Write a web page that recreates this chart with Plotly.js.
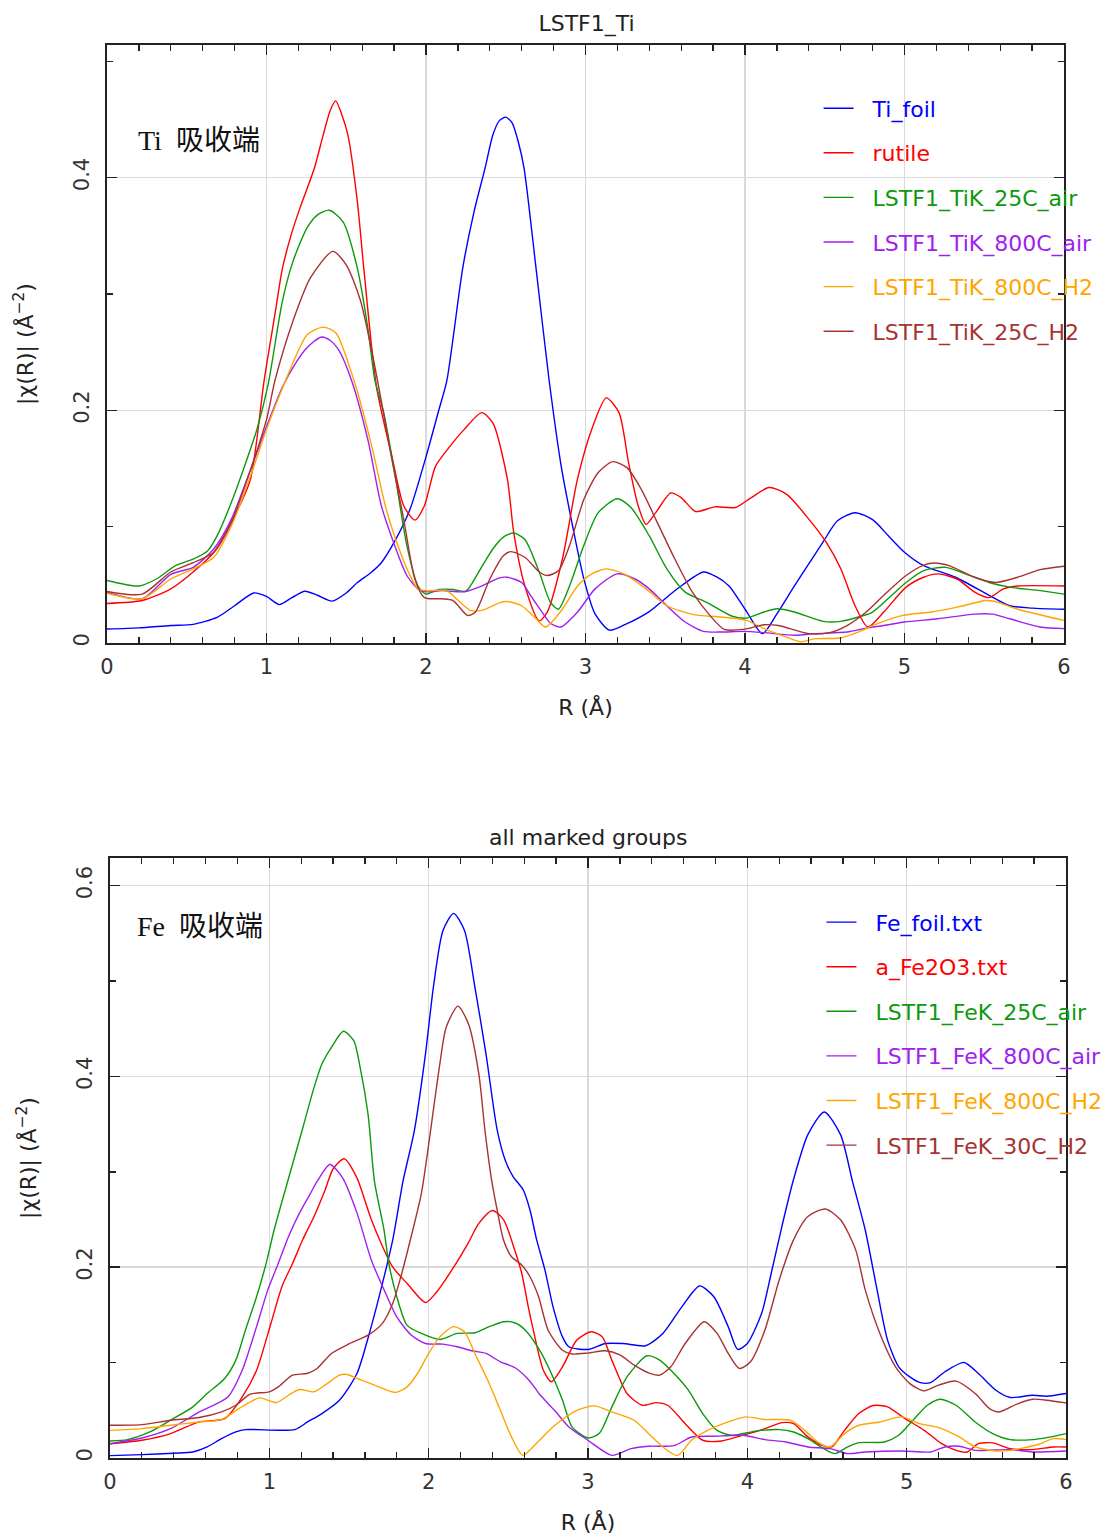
<!DOCTYPE html>
<html>
<head>
<meta charset="utf-8">
<script src="https://cdn.plot.ly/plotly-3.0.1.min.js"></script>
<style>html,body{margin:0;padding:0;background:#fff;}</style>
</head>
<body>
<div id="chart" style="width:1107px;height:1535px;"></div>
<script>
// ---------- Top panel: Ti K-edge ----------
const tiFoilR = [0,0.2,0.4,0.54,0.69,0.8,0.92,1.0,1.08,1.16,1.24,1.32,1.41,1.5,1.57,1.65,1.72,1.81,1.9,2.0,2.08,2.13,2.23,2.3,2.37,2.42,2.46,2.5,2.54,2.58,2.615,2.69,2.77,2.85,2.92,2.99,3.06,3.15,3.25,3.4,3.58,3.74,3.82,3.9,4.01,4.11,4.2,4.31,4.49,4.58,4.69,4.8,4.9,5.0,5.12,5.32,5.53,5.66,5.8,6.0];
const tiFoilV = [0.012,0.013,0.015,0.016,0.022,0.032,0.043,0.040,0.033,0.039,0.0445,0.041,0.036,0.043,0.052,0.060,0.069,0.089,0.115,0.160,0.200,0.225,0.322,0.370,0.408,0.437,0.449,0.452,0.447,0.430,0.408,0.322,0.228,0.150,0.100,0.055,0.025,0.011,0.016,0.027,0.047,0.061,0.057,0.049,0.027,0.008,0.025,0.049,0.087,0.105,0.112,0.106,0.092,0.078,0.0665,0.0565,0.041,0.032,0.030,0.029];

const rutileR = [0,0.22,0.4,0.54,0.67,0.81,0.9,0.985,1.05,1.1,1.155,1.21,1.3,1.356,1.4,1.434,1.47,1.51,1.57,1.61,1.69,1.79,1.86,1.93,1.99,2.06,2.15,2.24,2.35,2.42,2.51,2.55,2.62,2.71,2.76,2.855,2.95,3.04,3.13,3.21,3.27,3.33,3.38,3.44,3.535,3.6,3.69,3.81,3.94,4.03,4.15,4.26,4.4,4.51,4.6,4.69,4.77,4.87,5.01,5.12,5.21,5.33,5.44,5.53,5.62,5.71,6.0];
const rutileV = [0.034,0.0365,0.0465,0.061,0.078,0.112,0.141,0.2255,0.28,0.322,0.351,0.374,0.408,0.437,0.458,0.466,0.455,0.437,0.379,0.322,0.22,0.158,0.118,0.1056,0.118,0.152,0.169,0.1836,0.198,0.189,0.141,0.095,0.049,0.019,0.0265,0.072,0.141,0.184,0.2107,0.198,0.155,0.118,0.102,0.112,0.129,0.125,0.113,0.117,0.1165,0.124,0.1336,0.128,0.1065,0.0865,0.064,0.032,0.0137,0.0266,0.048,0.0565,0.0594,0.055,0.0437,0.039,0.0465,0.049,0.049];

const ti25AirR = [0,0.2,0.31,0.43,0.54,0.63,0.69,0.78,0.87,0.94,1.01,1.1,1.166,1.255,1.32,1.394,1.48,1.57,1.635,1.68,1.735,1.81,1.88,1.95,2.0,2.08,2.17,2.25,2.33,2.42,2.485,2.55,2.62,2.71,2.78,2.83,2.9,2.99,3.08,3.2,3.285,3.4,3.51,3.625,3.76,3.92,4.01,4.12,4.2,4.31,4.49,4.6,4.71,4.8,4.92,5.01,5.12,5.26,5.39,5.53,5.66,5.85,6.0];
const ti25AirV = [0.0537,0.049,0.055,0.0665,0.072,0.079,0.092,0.121,0.155,0.1836,0.222,0.294,0.328,0.357,0.368,0.372,0.362,0.322,0.271,0.2255,0.198,0.141,0.0837,0.049,0.042,0.046,0.046,0.0445,0.061,0.081,0.091,0.0945,0.089,0.061,0.035,0.029,0.049,0.084,0.112,0.124,0.1165,0.092,0.0637,0.0437,0.035,0.023,0.0214,0.0266,0.0294,0.0266,0.0186,0.0186,0.0223,0.0266,0.041,0.052,0.0622,0.065,0.059,0.052,0.048,0.045,0.042];

const ti800AirR = [0,0.22,0.4,0.54,0.67,0.78,0.9,1.0,1.1,1.18,1.255,1.344,1.4,1.456,1.535,1.635,1.72,1.79,1.88,1.95,2.0,2.1,2.24,2.35,2.46,2.51,2.6,2.66,2.72,2.78,2.845,2.95,3.06,3.2,3.31,3.4,3.51,3.625,3.74,3.85,3.99,4.12,4.31,4.44,4.64,4.76,4.87,5.0,5.21,5.44,5.55,5.66,5.85,6.0];
const ti800AirV = [0.0437,0.038,0.059,0.065,0.081,0.1065,0.149,0.186,0.22,0.24,0.254,0.263,0.26,0.251,0.225,0.175,0.118,0.089,0.058,0.0465,0.044,0.045,0.044,0.049,0.056,0.0565,0.052,0.04,0.028,0.017,0.0137,0.0266,0.0465,0.0594,0.055,0.0465,0.032,0.018,0.010,0.0094,0.010,0.0089,0.0066,0.008,0.0094,0.0128,0.015,0.018,0.0208,0.0248,0.0248,0.0208,0.0137,0.0123];

const ti800H2R = [0,0.22,0.4,0.54,0.67,0.78,0.9,1.0,1.1,1.255,1.356,1.434,1.55,1.66,1.745,1.81,1.9,1.95,2.0,2.13,2.19,2.28,2.35,2.46,2.51,2.6,2.69,2.75,2.855,2.95,3.04,3.13,3.24,3.38,3.51,3.67,3.85,4.01,4.12,4.26,4.35,4.44,4.6,4.71,4.83,4.99,5.17,5.33,5.51,5.57,5.71,6.0];
const ti800H2V = [0.0428,0.038,0.055,0.0637,0.0737,0.1008,0.1436,0.1836,0.219,0.265,0.2715,0.2667,0.225,0.169,0.118,0.089,0.058,0.0465,0.045,0.045,0.038,0.028,0.028,0.0345,0.0357,0.032,0.0208,0.0137,0.029,0.049,0.0594,0.0637,0.0594,0.0465,0.032,0.0246,0.0223,0.0194,0.0123,0.005,0.001,0.0037,0.0043,0.0094,0.0166,0.0237,0.0266,0.0308,0.0365,0.0357,0.029,0.0194];

const ti25H2R = [0,0.22,0.4,0.54,0.67,0.78,0.9,1.0,1.053,1.166,1.276,1.416,1.5,1.59,1.68,1.79,1.86,1.93,1.99,2.1,2.17,2.26,2.31,2.4,2.485,2.53,2.62,2.71,2.76,2.83,2.9,2.99,3.08,3.17,3.26,3.35,3.44,3.56,3.67,3.78,3.87,3.99,4.12,4.21,4.4,4.53,4.64,4.76,4.87,5.01,5.12,5.19,5.28,5.44,5.57,5.71,5.85,6.0];
const ti25H2V = [0.0443,0.042,0.061,0.069,0.078,0.1036,0.149,0.192,0.2255,0.2767,0.314,0.3366,0.325,0.294,0.237,0.155,0.1065,0.055,0.039,0.038,0.0365,0.0237,0.0266,0.055,0.075,0.0785,0.0737,0.061,0.058,0.062,0.0837,0.1236,0.1465,0.1559,0.1507,0.132,0.1065,0.0722,0.0437,0.0237,0.0117,0.0117,0.0157,0.015,0.008,0.0089,0.015,0.0266,0.041,0.058,0.067,0.0688,0.0665,0.0565,0.052,0.0565,0.063,0.066];

// ---------- Bottom panel: Fe K-edge ----------
const feFoilR = [0,0.2,0.4,0.52,0.61,0.7,0.79,0.85,1.16,1.24,1.33,1.44,1.55,1.64,1.71,1.775,1.84,1.91,1.98,2.03,2.09,2.157,2.225,2.29,2.36,2.43,2.48,2.53,2.594,2.636,2.678,2.73,2.78,2.84,2.88,3.0,3.11,3.22,3.36,3.47,3.59,3.7,3.79,3.88,3.94,4.0,4.09,4.15,4.22,4.29,4.38,4.483,4.585,4.66,4.74,4.81,4.88,4.95,5.02,5.085,5.15,5.24,5.36,5.45,5.56,5.65,5.79,5.88,6.0];
const feFoilV = [0.0025,0.0035,0.005,0.0063,0.0116,0.0203,0.0273,0.0298,0.0298,0.0378,0.0466,0.0606,0.0886,0.138,0.183,0.229,0.291,0.343,0.4235,0.494,0.553,0.571,0.553,0.494,0.4235,0.344,0.3125,0.295,0.281,0.26,0.2286,0.197,0.159,0.127,0.1166,0.1138,0.12,0.12,0.1177,0.1306,0.1587,0.1804,0.169,0.1377,0.1138,0.12,0.1517,0.1937,0.245,0.292,0.339,0.3628,0.339,0.29,0.239,0.18,0.1236,0.0956,0.085,0.079,0.079,0.0904,0.1002,0.0886,0.071,0.0634,0.0658,0.0648,0.0676];

const fe2o3R = [0,0.2,0.38,0.56,0.72,0.83,0.92,1.01,1.08,1.146,1.21,1.28,1.35,1.4,1.47,1.55,1.6,1.64,1.71,1.775,1.865,1.98,2.045,2.157,2.247,2.315,2.4,2.47,2.54,2.584,2.625,2.657,2.72,2.77,2.84,2.93,3.02,3.09,3.15,3.245,3.34,3.43,3.5,3.61,3.72,3.84,3.97,4.11,4.22,4.29,4.38,4.47,4.53,4.61,4.7,4.79,4.88,4.99,5.11,5.22,5.31,5.38,5.45,5.54,5.65,5.79,5.92,6.0];
const fe2o3V = [0.015,0.0186,0.0256,0.0378,0.0413,0.064,0.092,0.141,0.18,0.204,0.229,0.253,0.281,0.303,0.3137,0.2937,0.27,0.25,0.222,0.2,0.183,0.163,0.173,0.2,0.225,0.246,0.2595,0.25,0.218,0.1937,0.1587,0.134,0.092,0.08,0.0956,0.1236,0.1324,0.127,0.1026,0.0676,0.0553,0.0581,0.0553,0.036,0.0186,0.0179,0.0238,0.0308,0.0371,0.036,0.0221,0.0133,0.0116,0.029,0.0466,0.055,0.0536,0.0413,0.029,0.015,0.008,0.0063,0.015,0.0158,0.0098,0.0088,0.0116,0.0116];

const fe25AirR = [0,0.11,0.25,0.38,0.52,0.61,0.72,0.79,0.85,0.92,0.98,1.03,1.1,1.21,1.28,1.33,1.39,1.465,1.53,1.57,1.62,1.66,1.72,1.75,1.8,1.865,1.955,2.07,2.18,2.29,2.38,2.47,2.54,2.607,2.7,2.77,2.84,2.9,3.0,3.07,3.15,3.245,3.37,3.45,3.54,3.63,3.72,3.81,3.9,4.06,4.2,4.29,4.38,4.49,4.55,4.63,4.7,4.86,4.95,5.04,5.13,5.21,5.31,5.43,5.54,5.65,5.79,5.88,6.0];
const fe25AirV = [0.0179,0.0193,0.0273,0.0396,0.0536,0.0676,0.0834,0.1026,0.134,0.169,0.204,0.239,0.281,0.346,0.388,0.413,0.4305,0.4474,0.4375,0.4095,0.36,0.29,0.239,0.204,0.169,0.139,0.1306,0.1243,0.1306,0.1313,0.1377,0.1429,0.1418,0.134,0.112,0.0886,0.0606,0.0326,0.021,0.0256,0.0536,0.085,0.1072,0.1026,0.0886,0.0711,0.0466,0.029,0.0238,0.0284,0.0298,0.0273,0.0203,0.0088,0.0046,0.0116,0.0161,0.0168,0.0238,0.0396,0.0553,0.0616,0.0553,0.0378,0.0256,0.0193,0.0193,0.0214,0.0256];

const fe800AirR = [0,0.2,0.38,0.56,0.74,0.83,0.92,0.99,1.056,1.12,1.19,1.26,1.3,1.38,1.46,1.55,1.64,1.73,1.8,1.89,1.98,2.09,2.18,2.27,2.36,2.45,2.54,2.63,2.7,2.79,2.88,3.0,3.15,3.27,3.38,3.54,3.65,3.79,3.97,4.11,4.24,4.38,4.52,4.63,4.74,4.97,5.15,5.24,5.33,5.43,5.65,5.79,6.0];
const fe800AirV = [0.015,0.021,0.0308,0.0483,0.064,0.092,0.1377,0.176,0.204,0.232,0.257,0.278,0.29,0.3077,0.2937,0.257,0.2077,0.1727,0.148,0.129,0.12,0.1194,0.1166,0.1124,0.1096,0.1009,0.0949,0.0816,0.066,0.05,0.0326,0.0186,0.0028,0.0098,0.0123,0.013,0.022,0.0228,0.0238,0.0193,0.0168,0.0116,0.0098,0.0046,0.0063,0.0074,0.0063,0.0116,0.0123,0.008,0.0088,0.0063,0.0074];

const fe800H2R = [0,0.2,0.38,0.56,0.7,0.81,0.88,0.94,1.045,1.12,1.19,1.28,1.35,1.44,1.49,1.55,1.66,1.79,1.865,1.93,2.0,2.07,2.157,2.225,2.29,2.38,2.45,2.52,2.59,2.674,2.79,2.93,3.04,3.15,3.29,3.38,3.47,3.56,3.65,3.745,3.88,3.99,4.11,4.27,4.36,4.45,4.52,4.61,4.7,4.83,4.97,5.08,5.2,5.33,5.43,5.56,5.65,5.83,5.92,6.0];
const fe800H2V = [0.029,0.0308,0.0343,0.0378,0.0403,0.0518,0.0588,0.063,0.058,0.0658,0.0718,0.0694,0.0764,0.0869,0.0876,0.0834,0.0764,0.0687,0.0746,0.0886,0.1096,0.127,0.1377,0.1324,0.1096,0.0781,0.05,0.0221,0.0028,0.015,0.034,0.05,0.0546,0.0483,0.0396,0.0256,0.0116,0.0025,0.0186,0.0284,0.0378,0.0431,0.0403,0.0396,0.029,0.0158,0.0116,0.0256,0.0343,0.0378,0.0431,0.036,0.0319,0.0221,0.0116,0.0074,0.008,0.0144,0.0203,0.0193];

const fe30H2R = [0,0.2,0.38,0.56,0.7,0.79,0.88,1.0,1.056,1.146,1.236,1.3,1.39,1.505,1.62,1.71,1.775,1.82,1.89,1.955,2.02,2.07,2.11,2.184,2.25,2.315,2.353,2.395,2.43,2.47,2.52,2.584,2.636,2.69,2.75,2.84,2.9,3.0,3.11,3.2,3.29,3.38,3.45,3.52,3.61,3.73,3.81,3.88,3.95,4.02,4.11,4.2,4.29,4.38,4.49,4.585,4.68,4.74,4.84,4.93,5.02,5.11,5.2,5.31,5.43,5.52,5.58,5.7,5.79,5.88,6.0];
const fe30H2V = [0.0343,0.035,0.0396,0.0424,0.0483,0.0553,0.0669,0.0694,0.0746,0.0869,0.0886,0.0939,0.1096,0.1201,0.1289,0.1412,0.1622,0.1867,0.232,0.278,0.353,0.413,0.4516,0.4737,0.455,0.4025,0.344,0.2916,0.26,0.2286,0.211,0.2024,0.19,0.169,0.134,0.113,0.109,0.11,0.1124,0.108,0.0974,0.0893,0.0869,0.0956,0.12,0.1429,0.1306,0.1096,0.0939,0.1009,0.134,0.1867,0.2287,0.2532,0.261,0.2497,0.2182,0.1762,0.1271,0.0956,0.078,0.0704,0.0764,0.0806,0.0676,0.0518,0.0483,0.0571,0.0616,0.0606,0.0578];

const xTickVals = [0,1,2,3,4,5,6];
const topYTicks = [0,0.2,0.4];
const botYTicks = [0,0.2,0.4,0.6];

const topNames = ['Ti_foil','rutile','LSTF1_TiK_25C_air','LSTF1_TiK_800C_air','LSTF1_TiK_800C_H2','LSTF1_TiK_25C_H2'];
const botNames = ['Fe_foil.txt','a_Fe2O3.txt','LSTF1_FeK_25C_air','LSTF1_FeK_800C_air','LSTF1_FeK_800C_H2','LSTF1_FeK_30C_H2'];
const colors = ['#0000ff','#ff0000','#0c9a0c','#a020f0','#ffa500','#a83232'];

const topData = [[tiFoilR,tiFoilV],[rutileR,rutileV],[ti25AirR,ti25AirV],[ti800AirR,ti800AirV],[ti800H2R,ti800H2V],[ti25H2R,ti25H2V]];
const botData = [[feFoilR,feFoilV],[fe2o3R,fe2o3V],[fe25AirR,fe25AirV],[fe800AirR,fe800AirV],[fe800H2R,fe800H2V],[fe30H2R,fe30H2V]];

const pad = '\u00a0\u00a0';
const traces = [];
topData.forEach((d,i)=>{
  traces.push({x:d[0], y:d[1], type:'scatter', mode:'lines', xaxis:'x', yaxis:'y',
    name:'<span style="color:'+colors[i]+'">'+pad+topNames[i]+'</span>',
    legend:'legend', legendgroup:'t'+i,
    line:{color:colors[i], width:1.4, shape:'spline', smoothing:0.7}});
});
botData.forEach((d,i)=>{
  traces.push({x:d[0], y:d[1], type:'scatter', mode:'lines', xaxis:'x2', yaxis:'y2',
    name:'<span style="color:'+colors[i]+'">'+pad+botNames[i]+'</span>',
    legend:'legend2', legendgroup:'b'+i,
    line:{color:colors[i], width:1.4, shape:'spline', smoothing:0.7}});
});

const tickFont = {family:'DejaVu Sans, Liberation Sans, sans-serif', size:21, color:'#333'};
const titleFont = {family:'DejaVu Sans, sans-serif', size:22, color:'#222'};
function xAxis(dom, anchor){
  return {domain:dom, anchor:anchor, range:[0,6], tickvals:xTickVals, ticktext:xTickVals.map(String),
    ticks:'inside', ticklen:10, tickwidth:1.5, tickcolor:'#222',
    minor:{dtick:0.2, ticks:'inside', ticklen:6, tickwidth:1.3, tickcolor:'#222', showgrid:false},
    showline:true, linecolor:'#222', linewidth:1.6, mirror:'ticks',
    showgrid:true, gridcolor:'#dadada', gridwidth:1.5, zeroline:false,
    tickfont:tickFont, ticklabelstandoff:4,
    title:{text:'R (Å)', font:titleFont, standoff:22}};
}
function yAxis(dom, anchor, rng, tv){
  return {domain:dom, anchor:anchor, range:rng, tickvals:tv, ticktext:tv.map(String),
    ticks:'inside', ticklen:10, tickwidth:1.5, tickcolor:'#222',
    minor:{dtick:0.1, ticks:'inside', ticklen:6, tickwidth:1.3, tickcolor:'#222', showgrid:false},
    showline:true, linecolor:'#222', linewidth:1.6, mirror:'ticks',
    showgrid:true, gridcolor:'#dadada', gridwidth:1.5, zeroline:false,
    tickangle:-90, tickfont:tickFont, ticklabelstandoff:8,
    title:{text:'|χ(R)| (Å<sup>−2</sup>)', font:titleFont, standoff:30}};
}

const legendCommon = {bgcolor:'rgba(0,0,0,0)', borderwidth:0, traceorder:'grouped', tracegroupgap:13,
  font:{family:'DejaVu Sans, Liberation Sans, sans-serif', size:22}, xanchor:'left', yanchor:'top', itemwidth:30};

const layout = {
  width:1107, height:1535,
  margin:{l:107, r:41, t:45, b:77, autoexpand:false},
  paper_bgcolor:'#fff', plot_bgcolor:'#fff',
  showlegend:true,
  title:{text:'LSTF1_Ti', x:0.5, xref:'paper', y:0.985, yref:'container', xanchor:'center', yanchor:'middle',
    font:titleFont},
  xaxis: xAxis([0,0.9979],'y'),
  yaxis: yAxis([0.5768,1],'x',[0,0.514],topYTicks),
  xaxis2: xAxis([0.0031,1],'y2'),
  yaxis2: yAxis([0,0.4246],'x2',[0,0.629],botYTicks),
  legend: Object.assign({x:0.742, y:0.970}, legendCommon),
  legend2: Object.assign({x:0.745, y:0.394}, legendCommon),
  annotations:[
    {text:'all marked groups', xref:'paper', yref:'paper', x:0.502, y:(1458-838)/1413, showarrow:false,
      xanchor:'center', yanchor:'middle', font:titleFont},
    {text:'Ti  吸收端', xref:'paper', yref:'paper', x:(136-107)/959, y:(1458-140)/1413, showarrow:false,
      xanchor:'left', yanchor:'middle', font:{family:'Liberation Serif, Noto Sans CJK SC, serif', size:28, color:'#111'}},
    {text:'Fe  吸收端', xref:'paper', yref:'paper', x:(135-107)/959, y:(1458-926)/1413, showarrow:false,
      xanchor:'left', yanchor:'middle', font:{family:'Liberation Serif, Noto Sans CJK SC, serif', size:28, color:'#111'}}
  ]
};

Plotly.newPlot('chart', traces, layout, {displayModeBar:false, staticPlot:true});
</script>
</body>
</html>
